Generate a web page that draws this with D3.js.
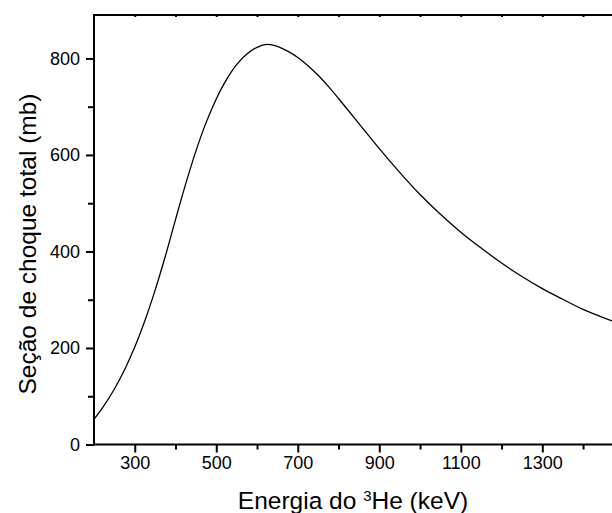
<!DOCTYPE html>
<html>
<head>
<meta charset="utf-8">
<script src="https://cdn.jsdelivr.net/npm/d3@7"></script>
<style>
  body { margin: 0; background: #fff; }
  svg { display: block; font-family: "Liberation Sans", Arial, sans-serif; }
  .curve { fill: none; stroke: #000; stroke-width: 1.3; }
  .axis path, .axis line { stroke: #000; stroke-width: 2; }
  .axis text { font-size: 18px; fill: #000; font-family: "Liberation Sans", Arial, sans-serif; }
</style>
</head>
<body>
<svg width="612" height="513"></svg>
<script>
// energia (keV) e seção de choque (mb)
var energy = [200, 225, 250, 275, 300, 325, 350, 375, 400, 425, 450, 475, 500, 525, 550, 575,
              600, 625, 650, 675, 700, 725, 750, 775, 800, 825, 850, 875, 900, 950, 1000, 1050,
              1100, 1150, 1200, 1250, 1300, 1350, 1400, 1471];
var sigma = [52, 81, 115, 155, 202, 257, 320, 390, 466, 540, 608, 667, 716, 756, 787, 809,
             823, 829, 825, 815, 802, 785, 765, 742, 717, 691, 665, 639, 613, 564, 518, 477,
             440, 407, 376, 348, 323, 301, 280, 256];
var xMajor = [300, 500, 700, 900, 1100, 1300];
var xMinor = [400, 600, 800, 1000, 1200, 1400];
var yMajor = [0, 200, 400, 600, 800];
var yMinor = [100, 300, 500, 700];

var svg = d3.select('svg'),
    pLeft = 94, pRight = 612, pTop = 15, pBottom = 444.5;

var x = d3.scaleLinear().domain([200, 1471]).range([pLeft, pRight]),
    y = d3.scaleLinear().domain([0, 890]).range([pBottom, pTop]);

var data = energy.map(function(e, i) { return {e: e, s: sigma[i]}; });

var line = d3.line()
    .x(function(d) { return x(d.e); })
    .y(function(d) { return y(d.s); })
    .curve(d3.curveCatmullRom.alpha(0.5));

svg.append('path')
    .datum(data)
    .attr('class', 'curve')
    .attr('d', line);

// eixo inferior
var gx = svg.append('g')
    .attr('class', 'axis')
    .attr('transform', 'translate(0,' + pBottom + ')')
    .call(d3.axisBottom(x).tickValues(xMajor).tickFormat(d3.format('d'))
      .tickSize(8).tickSizeOuter(0).tickPadding(4));
gx.select('.domain').attr('d', 'M' + pLeft + ',0H' + pRight);

svg.append('g')
    .attr('class', 'axis')
    .attr('transform', 'translate(0,' + pBottom + ')')
    .call(d3.axisBottom(x).tickValues(xMinor).tickSize(5).tickFormat(''))
    .select('.domain').remove();

// eixo superior (ticks curtos)
var gt = svg.append('g')
    .attr('class', 'axis')
    .attr('transform', 'translate(0,' + pTop + ')')
    .call(d3.axisTop(x).tickValues(xMajor.concat(xMinor)).tickSize(-2).tickFormat(''));
gt.select('.domain').attr('d', 'M' + pLeft + ',0H' + pRight);

// eixo esquerdo
var gy = svg.append('g')
    .attr('class', 'axis')
    .attr('transform', 'translate(' + pLeft + ',0)')
    .call(d3.axisLeft(y).tickValues(yMajor).tickFormat(d3.format('d'))
      .tickSize(8).tickSizeOuter(0).tickPadding(6));
gy.select('.domain').attr('d', 'M0,' + (pBottom + 1) + 'V' + (pTop - 1));

svg.append('g')
    .attr('class', 'axis')
    .attr('transform', 'translate(' + pLeft + ',0)')
    .call(d3.axisLeft(y).tickValues(yMinor).tickSize(6).tickFormat(''))
    .select('.domain').remove();

// rótulos
var xl = svg.append('text')
    .attr('x', (pLeft + pRight) / 2)
    .attr('y', 509)
    .attr('text-anchor', 'middle')
    .attr('font-size', 24.5);
xl.append('tspan').text('Energia do ');
xl.append('tspan').attr('font-size', 15).attr('dy', -8).text('3');
xl.append('tspan').attr('dy', 8).text('He (keV)');

svg.append('text')
    .attr('transform', 'translate(36,244) rotate(-90)')
    .attr('text-anchor', 'middle')
    .attr('font-size', 24.5)
    .text('Seção de choque total (mb)');
</script>
</body>
</html>
